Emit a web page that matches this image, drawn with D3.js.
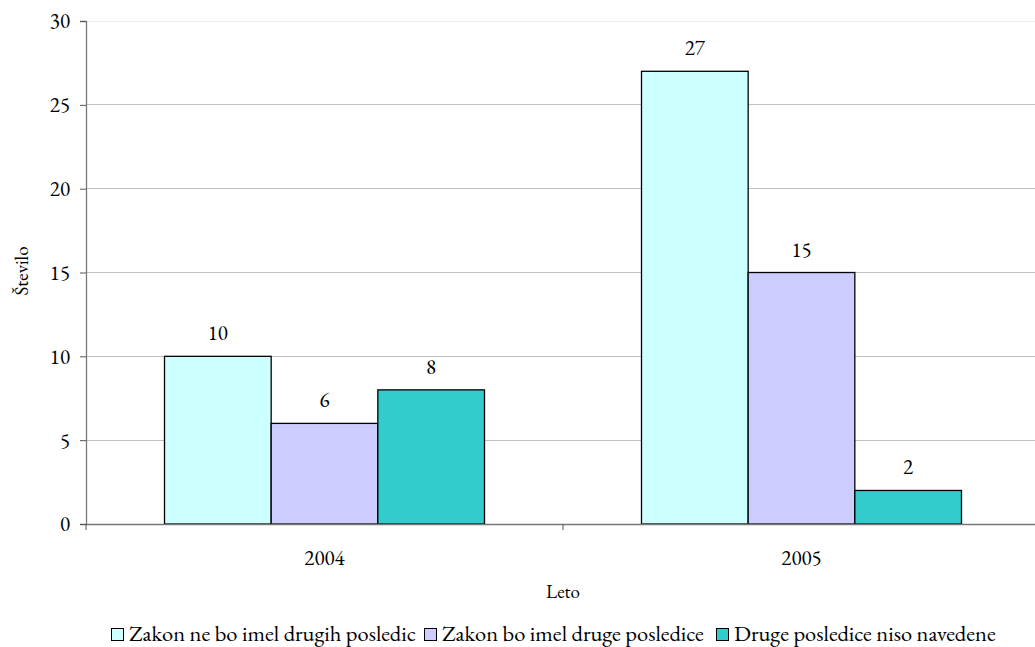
<!DOCTYPE html>
<html>
<head>
<meta charset="utf-8">
<script src="https://cdn.jsdelivr.net/npm/d3@7"></script>
<style>
  body { margin: 0; background: #fff; }
  svg { display: block; }
</style>
</head>
<body>
<svg id="chart" width="1035" height="647"></svg>
<script>
// Years on the x axis
const years = ["2004", "2005"];
// Series names (legend order)
const seriesNames = [
  "Zakon ne bo imel drugih posledic",
  "Zakon bo imel druge posledice",
  "Druge posledice niso navedene"
];
// Values per series, one per year
const noOtherEffects = [10, 27];
const otherEffects = [6, 15];
const notStated = [8, 2];
const yTicks = [0, 5, 10, 15, 20, 25, 30];

const seriesValues = [noOtherEffects, otherEffects, notStated];
const colors = ["#CCFFFF", "#CCCCFF", "#33CCCC"];
const FONT = '"EB Garamond"';

const svg = d3.select("#chart");
const margin = { left: 86, right: -5, top: 21, bottom: 123 };
const W = 1035, H = 647;
const plotW = W - margin.left - margin.right;
const plotH = H - margin.top - margin.bottom;

const g = svg.append("g").attr("transform", `translate(${margin.left},${margin.top})`);

const x0 = d3.scaleBand().domain(years).range([0, plotW]).paddingInner(0).paddingOuter(0);
const groupW = 320;
const x1 = d3.scaleBand().domain(d3.range(seriesNames.length)).range([0, groupW]);
const y = d3.scaleLinear().domain([0, 30]).range([plotH, 0]);

function txt(sel, size) {
  return sel.style("font-family", FONT).style("font-size", size + "px").attr("fill", "#000");
}

// Horizontal gridlines
g.selectAll("line.grid").data(yTicks.filter(t => t > 0)).enter().append("line")
  .attr("x1", 0).attr("x2", plotW)
  .attr("y1", d => y(d)).attr("y2", d => y(d))
  .attr("stroke", d => d === 30 ? "#ececec" : "#c0c0c0").attr("stroke-width", 1)
  .attr("shape-rendering", "crispEdges");

// Bars with value labels
const groups = g.selectAll("g.year").data(years).enter().append("g")
  .attr("transform", d => `translate(${x0(d) + (x0.bandwidth() - groupW) / 2},0)`);

groups.each(function(year, yi) {
  const sel = d3.select(this);
  seriesValues.forEach((vals, si) => {
    const v = vals[yi];
    sel.append("rect")
      .attr("x", x1(si)).attr("width", x1.bandwidth())
      .attr("y", y(v)).attr("height", y(0) - y(v))
      .attr("fill", colors[si]).attr("stroke", "#000").attr("stroke-width", 1.3);
    txt(sel.append("text"), 21)
      .attr("x", x1(si) + x1.bandwidth() / 2).attr("y", y(v) - 16)
      .attr("text-anchor", "middle").text(v);
  });
});

// Y axis
const yAxis = d3.axisLeft(y).tickValues(yTicks).tickSize(6).tickPadding(10);
const ya = g.append("g").call(yAxis);
ya.select(".domain").attr("stroke", "#777").attr("stroke-width", 1.3);
ya.selectAll(".tick line").attr("stroke", "#555");
txt(ya.selectAll(".tick text"), 21).attr("dy", "0.33em");

// X axis
const xAxis = d3.axisBottom(x0).tickValues([]).tickSizeOuter(0);
const xa = g.append("g").attr("transform", `translate(0,${plotH})`).call(xAxis);
xa.select(".domain").attr("stroke", "#777").attr("stroke-width", 1.3);
// Tick marks at band boundaries
xa.selectAll("line.bound").data([0, x0.step()]).enter().append("line")
  .attr("x1", d => d).attr("x2", d => d).attr("y1", 0).attr("y2", 6)
  .attr("stroke", "#555");
txt(xa.selectAll("text.cat").data(years).enter().append("text"), 21)
  .attr("x", d => x0(d) + x0.bandwidth() / 2).attr("y", 565 - margin.top - plotH)
  .attr("text-anchor", "middle").text(d => d);

// Axis titles
txt(svg.append("text"), 19).attr("x", margin.left + x0.step()).attr("y", 598)
  .attr("text-anchor", "middle").text("Leto");
txt(svg.append("text"), 19).attr("transform", `translate(28,271) rotate(-90)`)
  .attr("text-anchor", "middle").text("Število");

// Legend
const legendX = [111, 424, 716];
seriesNames.forEach((name, i) => {
  const lg = svg.append("g").attr("transform", `translate(${legendX[i]},628)`);
  lg.append("rect").attr("x", 0.5).attr("y", 0.5).attr("width", 12).attr("height", 12)
    .attr("fill", colors[i]).attr("stroke", "#000").attr("stroke-width", 1);
  txt(lg.append("text"), 22.5).attr("x", 18).attr("y", 13).text(name);
});
</script>
</body>
</html>
